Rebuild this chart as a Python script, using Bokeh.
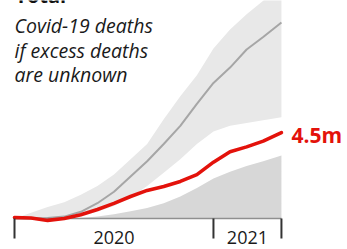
from bokeh.plotting import figure
from bokeh.models import Range1d, ColumnDataSource
from bokeh.core.properties import value
from bokeh.embed import file_html
from bokeh.resources import INLINE

# ---- data (millions of deaths, months since Jan 2020) ----
months = [0, 1, 2, 3, 4, 5, 6, 7, 8, 9, 10, 11, 12, 13, 14, 15, 16.1]
covid_deaths = [0.05, 0.03, -0.1, 0.0, 0.2, 0.47, 0.79, 1.15, 1.47, 1.68, 1.94, 2.3, 2.95, 3.5, 3.75, 4.05, 4.5]
excess_central = [0, 0, 0.02, 0.1, 0.35, 0.8, 1.4, 2.2, 3.0, 3.9, 4.85, 6.0, 7.1, 7.9, 8.85, 9.5, 10.26]
excess_high = [0, 0.3, 0.6, 0.85, 1.25, 1.7, 2.3, 3.1, 3.9, 5.2, 6.4, 7.5, 8.9, 9.9, 10.7, 11.4, 12.6]
excess_low = [0, 0, 0, 0.05, 0.15, 0.35, 0.65, 1.1, 1.7, 2.4, 3.1, 3.9, 4.55, 4.85, 5.0, 5.15, 5.3]
lower_area = [0, 0, 0, 0, 0.03, 0.1, 0.22, 0.38, 0.55, 0.8, 1.15, 1.6, 2.1, 2.45, 2.75, 3.0, 3.3]
year_edges = [0, 12, 16.1]
year_labels = ["2020", "2021"]
title = "Total"
subtitle_lines = ["Covid-19 deaths", "if excess deaths", "are unknown"]

# ---- layout constants ----
W, H = 347, 249
PX_M = 16.58      # px per month
PX_V = 19.1       # px per million
X0_PX = 14        # pixel of month 0
Y0_PX = 218       # pixel of value 0

RED = "#e3120b"
FONT = "Open Sans"


def ypx(py):
    """data y for a pixel row"""
    return (Y0_PX - py) / PX_V


p = figure(width=W, height=H, output_backend="svg", toolbar_location=None,
           x_range=Range1d(-X0_PX / PX_M, (W - X0_PX) / PX_M),
           y_range=Range1d(ypx(H), ypx(0)),
           min_border=0, min_border_left=0, min_border_right=0,
           min_border_top=0, min_border_bottom=0)
p.axis.visible = False
p.grid.visible = False
p.outline_line_color = None
p.background_fill_color = "white"
p.border_fill_color = "white"

src = ColumnDataSource(dict(m=months, red=covid_deaths, mid=excess_central,
                            hi=excess_high, lo=excess_low, area=lower_area,
                            zero=[0] * len(months)))

p.varea(x="m", y1="zero", y2="area", source=src, fill_color="#d7d7d7")
p.varea(x="m", y1="lo", y2="hi", source=src, fill_color="#e8e8e8")
p.line(x="m", y="mid", source=src, line_color="#a6a6a6", line_width=2)
p.line(x=[months[0], months[-1]], y=[0, 0], line_color="#8f8f8f", line_width=1.6)
p.line(x="m", y="red", source=src, line_color=RED, line_width=3.6,
       line_cap="round", line_join="round")

# year ticks and labels
tick_len = 20 / PX_V
p.segment(x0=year_edges, y0=[0] * len(year_edges), x1=year_edges,
          y1=[-tick_len] * len(year_edges), line_color="#333333", line_width=2)
centers = [(a + b) / 2 for a, b in zip(year_edges[:-1], year_edges[1:])]
p.text(x=centers, y=[ypx(236.8)] * len(centers), text=year_labels,
       text_font=value(FONT), text_font_size="18px", text_color="#1a1a1a",
       text_align="center", text_baseline="middle")

# end label
p.text(x=[months[-1]], y=[covid_deaths[-1]], text=[f"{covid_deaths[-1]}m"],
       x_offset=10, y_offset=2, text_font=value(FONT), text_font_size="21px",
       text_font_style="bold", text_color=RED, text_align="left",
       text_baseline="middle")

# title (cut off at the top) and subtitle
p.text(x=[0.05], y=[ypx(-5)], text=[title], text_font=value(FONT),
       text_font_size="20px", text_font_style="bold", text_color="#111111",
       text_baseline="middle")
line_gap = 24.5
for i, line in enumerate(subtitle_lines):
    p.text(x=[0.0], y=[ypx(25 + i * line_gap)], text=[line],
           text_font=value(FONT), text_font_size="19.5px", text_font_style="italic",
           text_color="#1a1a1a", text_baseline="middle")

open("out.html", "w").write(file_html(p, INLINE))
